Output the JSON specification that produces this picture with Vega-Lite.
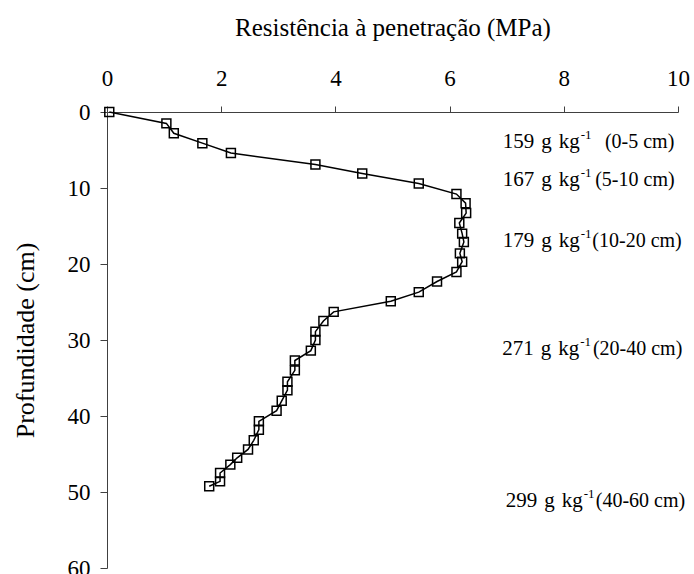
{
  "$schema": "https://vega.github.io/schema/vega-lite/v6.json",
  "width": 571,
  "height": 456,
  "autosize": {"type": "none"},
  "padding": {"left": 107, "top": 112, "right": 16, "bottom": 6},
  "background": "white",
  "config": {
    "view": {"stroke": null},
    "font": "Liberation Serif",
    "axis": {"grid": false, "domainColor": "#404040", "tickColor": "#404040", "labelColor": "black", "titleColor": "black", "labelFont": "Liberation Serif", "titleFont": "Liberation Serif", "titleFontWeight": "normal", "labelFontSize": 23}
  },
  "datasets": {
    "profile": [
      {"resistencia": 0.04, "profundidade": 0},
      {"resistencia": 1.04, "profundidade": 1.5},
      {"resistencia": 1.17, "profundidade": 2.8},
      {"resistencia": 1.67, "profundidade": 4.1},
      {"resistencia": 2.17, "profundidade": 5.4},
      {"resistencia": 3.65, "profundidade": 6.9},
      {"resistencia": 4.47, "profundidade": 8.1},
      {"resistencia": 5.46, "profundidade": 9.4},
      {"resistencia": 6.12, "profundidade": 10.8},
      {"resistencia": 6.28, "profundidade": 12.0},
      {"resistencia": 6.29, "profundidade": 13.3},
      {"resistencia": 6.17, "profundidade": 14.6},
      {"resistencia": 6.22, "profundidade": 16.0},
      {"resistencia": 6.25, "profundidade": 17.1},
      {"resistencia": 6.18, "profundidade": 18.6},
      {"resistencia": 6.22, "profundidade": 19.7},
      {"resistencia": 6.12, "profundidade": 21.05},
      {"resistencia": 5.78, "profundidade": 22.3},
      {"resistencia": 5.46, "profundidade": 23.7},
      {"resistencia": 4.97, "profundidade": 24.9},
      {"resistencia": 3.97, "profundidade": 26.3},
      {"resistencia": 3.79, "profundidade": 27.5},
      {"resistencia": 3.65, "profundidade": 28.9},
      {"resistencia": 3.65, "profundidade": 30.0},
      {"resistencia": 3.57, "profundidade": 31.4},
      {"resistencia": 3.29, "profundidade": 32.7},
      {"resistencia": 3.29, "profundidade": 34.0},
      {"resistencia": 3.16, "profundidade": 35.5},
      {"resistencia": 3.16, "profundidade": 36.6},
      {"resistencia": 3.06, "profundidade": 38.0},
      {"resistencia": 2.97, "profundidade": 39.3},
      {"resistencia": 2.66, "profundidade": 40.7},
      {"resistencia": 2.66, "profundidade": 41.8},
      {"resistencia": 2.57, "profundidade": 43.2},
      {"resistencia": 2.47, "profundidade": 44.4},
      {"resistencia": 2.28, "profundidade": 45.5},
      {"resistencia": 2.16, "profundidade": 46.4},
      {"resistencia": 1.98, "profundidade": 47.5},
      {"resistencia": 1.98, "profundidade": 48.6},
      {"resistencia": 1.79, "profundidade": 49.25}
    ],
    "notes": [
      {"main": "159\u2004g\u2004kg", "sup": "-1", "suffix": "(0-5 cm)", "xEnd": 8.28, "xSuffix": 8.72, "depth": 4.78},
      {"main": "167\u2004g\u2004kg", "sup": "-1", "suffix": "(5-10 cm)", "xEnd": 8.28, "xSuffix": 8.55, "depth": 9.78},
      {"main": "179\u2004g\u2004kg", "sup": "-1", "suffix": "(10-20 cm)", "xEnd": 8.28, "xSuffix": 8.5, "depth": 17.76},
      {"main": "271\u2004g\u2004kg", "sup": "-1", "suffix": "(20-40 cm)", "xEnd": 8.27, "xSuffix": 8.51, "depth": 31.92},
      {"main": "299\u2004g\u2004kg", "sup": "-1", "suffix": "(40-60 cm)", "xEnd": 8.33, "xSuffix": 8.56, "depth": 51.97}
    ]
  },
  "layer": [
    {
      "data": {"name": "profile"},
      "mark": {"type": "line", "color": "black", "strokeWidth": 1.5},
      "encoding": {
        "x": {"field": "resistencia", "type": "quantitative",
          "scale": {"domain": [0, 10], "nice": false, "zero": false},
          "axis": {"orient": "top", "values": [0, 2, 4, 6, 8, 10], "format": "d", "title": "Resistência à penetração (MPa)", "titleFontSize": 25, "titlePadding": 27, "labelFontSize": 23, "labelFont": "Liberation Serif", "labelPadding": 16, "tickSize": 6, "labelFlush": false}},
        "y": {"field": "profundidade", "type": "quantitative",
          "scale": {"domain": [0, 60], "nice": false, "reverse": true, "zero": false},
          "axis": {"values": [0, 10, 20, 30, 40, 50, 60], "format": "d", "title": "Profundidade (cm)", "titleFontSize": 26, "titlePadding": 29, "labelFontSize": 23, "labelFont": "Liberation Serif", "labelPadding": 10, "tickSize": 7, "labelFlush": false}},
        "order": {"field": "profundidade", "type": "quantitative"}
      }
    },
    {
      "data": {"name": "profile"},
      "mark": {"type": "point", "shape": "square", "filled": false, "color": "black", "strokeWidth": 1.5, "size": 80, "opacity": 1},
      "encoding": {
        "x": {"field": "resistencia", "type": "quantitative"},
        "y": {"field": "profundidade", "type": "quantitative"}
      }
    },
    {
      "data": {"name": "notes"},
      "mark": {"type": "text", "align": "right", "baseline": "alphabetic", "fontSize": 21, "font": "Liberation Serif", "color": "black"},
      "encoding": {
        "x": {"field": "xEnd", "type": "quantitative"},
        "y": {"field": "depth", "type": "quantitative"},
        "text": {"field": "main"}
      }
    },
    {
      "data": {"name": "notes"},
      "mark": {"type": "text", "align": "left", "baseline": "alphabetic", "fontSize": 13, "dx": 1, "dy": -9, "font": "Liberation Serif", "color": "black"},
      "encoding": {
        "x": {"field": "xEnd", "type": "quantitative"},
        "y": {"field": "depth", "type": "quantitative"},
        "text": {"field": "sup"}
      }
    },
    {
      "data": {"name": "notes"},
      "mark": {"type": "text", "align": "left", "baseline": "alphabetic", "fontSize": 20, "font": "Liberation Serif", "color": "black"},
      "encoding": {
        "x": {"field": "xSuffix", "type": "quantitative"},
        "y": {"field": "depth", "type": "quantitative"},
        "text": {"field": "suffix"}
      }
    }
  ]
}
